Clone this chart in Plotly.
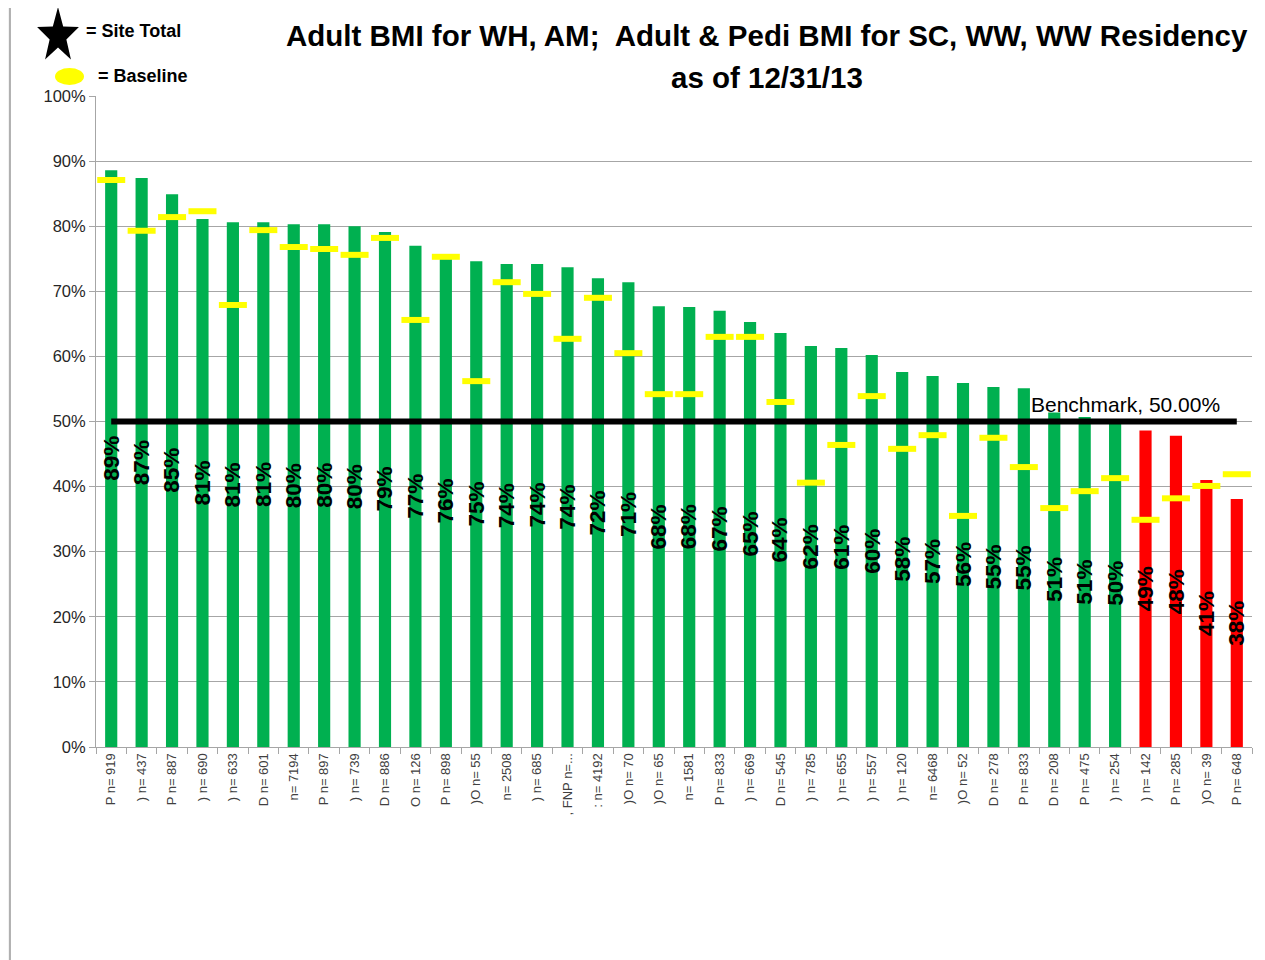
import math
import plotly.graph_objects as go

# ---- data ----
categories = [
    "P n= 919", ") n= 437", "P n= 887", ") n= 690", ") n= 633", "D n= 601", "n= 7194",
    "P n= 897", ") n= 739", "D n= 886", "O n= 126", "P n= 898", ")O n= 55", "n= 2508",
    ") n= 685", ", FNP n=...", ": n= 4192", ")O n= 70", ")O n= 65", "n= 1581", "P n= 833",
    ") n= 669", "D n= 545", ") n= 785", ") n= 655", ") n= 557", ") n= 120", "n= 6468",
    ")O n= 52", "D n= 278", "P n= 833\u200b", "D n= 208", "P n= 475", ") n= 254", ") n= 142",
    "P n= 285", ")O n= 39", "P n= 648",
]
bmi_pct = [
    88.6, 87.4, 84.9, 81.1, 80.6, 80.6, 80.3, 80.3, 80.0, 79.1, 77.0, 75.7, 74.6, 74.2,
    74.2, 73.7, 72.0, 71.4, 67.7, 67.6, 67.0, 65.3, 63.6, 61.6, 61.3, 60.2, 57.6, 57.0,
    55.9, 55.3, 55.1, 51.4, 50.7, 50.2, 48.6, 47.8, 41.0, 38.1,
]
baseline_pct = [
    87.1, 79.3, 81.4, 82.3, 67.9, 79.4, 76.8, 76.5, 75.6, 78.2, 65.6, 75.3, 56.2, 71.4,
    69.6, 62.7, 69.0, 60.5, 54.2, 54.2, 63.0, 63.0, 53.0, 40.6, 46.4, 53.9, 45.8, 47.9,
    35.5, 47.5, 43.0, 36.7, 39.3, 41.3, 34.9, 38.2, 40.1, 41.9,
]
benchmark = 50.0

FONT = "Liberation Sans, Arial, sans-serif"
GREEN = "#00B050"
RED = "#FF0000"
GRID = "#A6A6A6"

# page offset from the default html body margin
OFF = 8
W, H = 1265 - OFF, 960 - OFF
L, R, T, B = 96 - OFF, 13, 96 - OFF, 213
PW, PH = W - L - R, H - T - B
PLOT_LEFT, PLOT_BOTTOM = 96, 747   # page pixels


def px(x):
    return (x - PLOT_LEFT) / PW


def py(y):
    return (PLOT_BOTTOM - y) / PH


colors = [GREEN if v >= benchmark else RED for v in bmi_pct]

fig = go.Figure()
fig.add_trace(go.Bar(x=categories, y=bmi_pct, marker=dict(color=colors, line=dict(width=0)),
                     hoverinfo="x+y"))
fig.add_trace(go.Scatter(x=categories, y=[benchmark] * len(categories), mode="lines",
                         line=dict(color="black", width=6), hoverinfo="skip"))
fig.add_trace(go.Scatter(x=categories, y=baseline_pct, mode="markers",
                         marker=dict(symbol="line-ew", size=20,
                                     line=dict(color="#FFFF00", width=6))))

annotations = []
for c, v in zip(categories, bmi_pct):
    annotations.append(dict(x=c, y=v / 2, xref="x", yref="y", text=f"<b>{round(v)}%</b>",
                            textangle=-90, showarrow=False,
                            font=dict(family=FONT, size=22.5, color="black")))

annotations.append(dict(x=px(1125), y=benchmark, xref="paper", yref="y",
                        text=f"Benchmark, {benchmark:.2f}%", showarrow=False,
                        xanchor="center", yanchor="bottom", yshift=4,
                        font=dict(family=FONT, size=21, color="black")))

# title
annotations.append(dict(x=px(767), y=py(36), xref="paper", yref="paper",
                        text="<b>Adult BMI for WH, AM;  Adult &amp; Pedi BMI for SC, WW, WW Residency</b>",
                        showarrow=False, xanchor="center", yanchor="middle",
                        font=dict(family=FONT, size=29.5, color="black")))
annotations.append(dict(x=px(767), y=py(77), xref="paper", yref="paper",
                        text="<b>as of 12/31/13</b>",
                        showarrow=False, xanchor="center", yanchor="middle",
                        font=dict(family=FONT, size=29.5, color="black")))

# custom key text
annotations.append(dict(x=px(84), y=py(31), xref="paper", yref="paper", text="<b>= Site Total</b>",
                        showarrow=False, xanchor="left", yanchor="middle",
                        font=dict(family=FONT, size=18, color="black")))
annotations.append(dict(x=px(96), y=py(76), xref="paper", yref="paper", text="<b>= Baseline</b>",
                        showarrow=False, xanchor="left", yanchor="middle",
                        font=dict(family=FONT, size=18, color="black")))

# star icon (pixel-sized path anchored in paper coords)
rx, ry, inner = 22, 29, 0.4
pts = []
for k in range(10):
    ang = math.pi / 2 + k * math.pi / 5
    r = 1.0 if k % 2 == 0 else inner
    pts.append((rx * r * math.cos(ang), ry * r * math.sin(ang)))
star_path = "M " + " L ".join(f"{x:.2f},{y:.2f}" for x, y in pts) + " Z"

shapes = [
    dict(type="rect", xref="paper", yref="paper", layer="below",
         x0=px(10), x1=px(1300), y0=py(1000), y1=py(7),
         fillcolor="white", line=dict(color="#9A9A9A", width=1.5)),
    dict(type="circle", xref="paper", yref="paper",
         x0=px(55), x1=px(84), y0=py(85), y1=py(68),
         fillcolor="#FFFF00", line=dict(color="#FFFF00", width=0)),
    dict(type="path", xref="paper", yref="paper", xsizemode="pixel", ysizemode="pixel",
         xanchor=px(58), yanchor=py(36), path=star_path,
         fillcolor="black", line=dict(color="black", width=0)),
]

fig.update_layout(
    width=W, height=H,
    margin=dict(l=L, r=R, t=T, b=B, pad=0),
    paper_bgcolor="#F3F3F3", plot_bgcolor="white",
    showlegend=False, bargap=0.6,
    annotations=annotations, shapes=shapes,
    font=dict(family=FONT),
    xaxis=dict(type="category", tickangle=-90, tickson="boundaries", ticks="outside",
               ticklen=6, tickcolor=GRID, showline=True, linecolor=GRID, linewidth=1,
               showgrid=False, range=[-0.5, len(categories) - 0.5],
               tickfont=dict(family=FONT, size=13, color="#404040")),
    yaxis=dict(range=[0, 100], dtick=10, ticksuffix="%", showgrid=True, gridcolor=GRID,
               gridwidth=1, showline=True, linecolor=GRID, linewidth=1, ticks="outside",
               ticklen=6, tickcolor=GRID, zeroline=False,
               tickfont=dict(family=FONT, size=16.5, color="#262626")),
)

fig.write_html("out.html")
